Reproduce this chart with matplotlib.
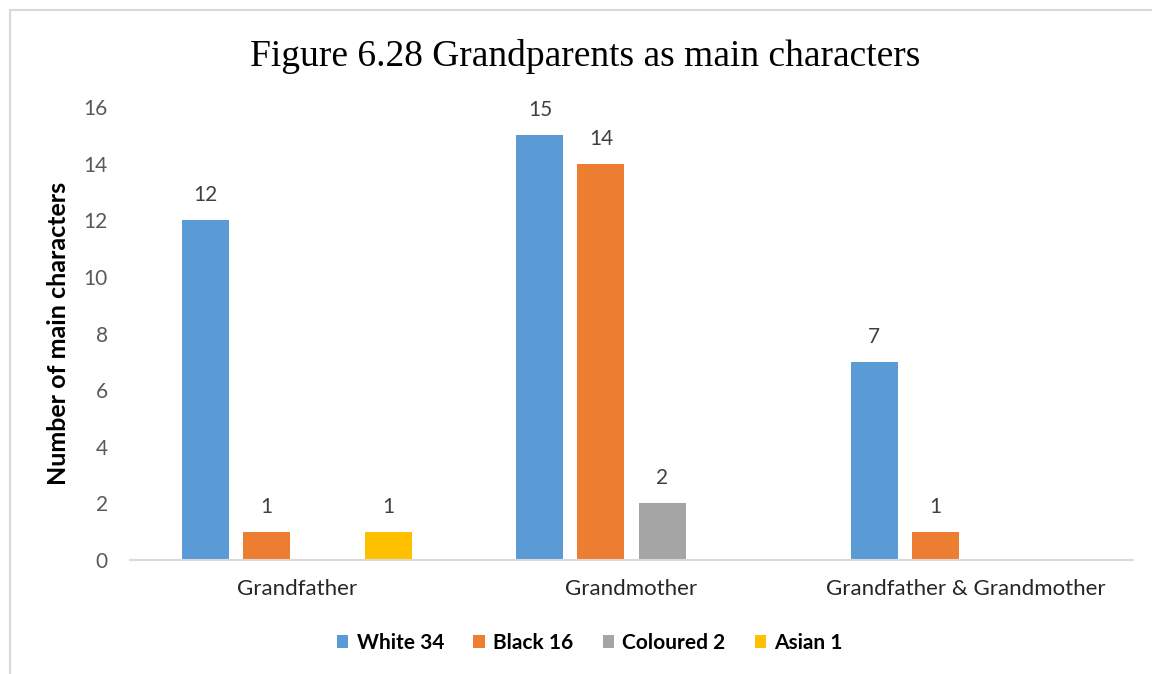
import matplotlib
matplotlib.use("Agg")
import matplotlib.pyplot as plt
import numpy as np
from matplotlib.patches import Rectangle

categories = ["Grandfather", "Grandmother", "Grandfather & Grandmother"]
series_names = ["White 34", "Black 16", "Coloured 2", "Asian 1"]
values = {
    "White 34": [12, 15, 7],
    "Black 16": [1, 14, 1],
    "Coloured 2": [0, 2, 0],
    "Asian 1": [1, 0, 0],
}
colors = ["#5B9BD5", "#ED7D31", "#A5A5A5", "#FFC000"]
yticks = [0, 2, 4, 6, 8, 10, 12, 14, 16]

font = "Lato"
fig = plt.figure(figsize=(11.52, 6.74), dpi=100)
ax = fig.add_axes([130/1152, 1-560/674, (1133-130)/1152, (560-107)/674])

x = np.arange(len(categories))
slot = 61/334.25
width = 47/334.25
for i, name in enumerate(series_names):
    off = (i - 1.5) * slot
    vals = values[name]
    for j, v in enumerate(vals):
        if v == 0:
            continue
        ax.bar(x[j] + off, v, width=width, color=colors[i], zorder=2)
        ax.annotate(str(v), (x[j] + off, v), xytext=(0, 18), textcoords="offset points",
                    ha="center", va="center", fontsize=15, color="#404040", family=font)

# legend handles
for i, name in enumerate(series_names):
    ax.bar([np.nan], [np.nan], color=colors[i], label=name)

ax.set_xlim(-0.5, 2.5)
ax.set_ylim(0, 16)
ax.set_yticks(yticks)
ax.set_yticklabels([str(t) for t in yticks], fontsize=15, color="#595959", family=font)
ax.set_xticks(x)
ax.set_xticklabels(categories, fontsize=16, color="#262626", family=font)
ax.tick_params(axis="both", length=0)
ax.tick_params(axis="y", pad=16)
ax.tick_params(axis="x", pad=14)
for s in ["top", "right", "left"]:
    ax.spines[s].set_visible(False)
ax.spines["bottom"].set_color("#D9D9D9")
ax.spines["bottom"].set_linewidth(1.5)
ax.set_ylabel("Number of main characters", fontsize=18, fontweight="bold", family=font, labelpad=10)

fig.text(585/1152, 1-57/674, "Figure 6.28 Grandparents as main characters", ha="center", va="center",
         fontsize=27, family="Liberation Serif")

handles, labels = ax.get_legend_handles_labels()
fig.legend(handles, labels, loc="center", bbox_to_anchor=(590/1152, 1-643/674), ncol=4, frameon=False,
           prop={"family": font, "weight": "bold", "size": 15}, handlelength=0.55, handleheight=0.55,
           handletextpad=0.4, columnspacing=1.4)

fig.add_artist(Rectangle((10/1152, -0.1), 1.2, 664/674 + 0.1, transform=fig.transFigure,
                         fill=False, edgecolor="#D9D9D9", linewidth=1.5))

fig.savefig("out.png", dpi=100)
